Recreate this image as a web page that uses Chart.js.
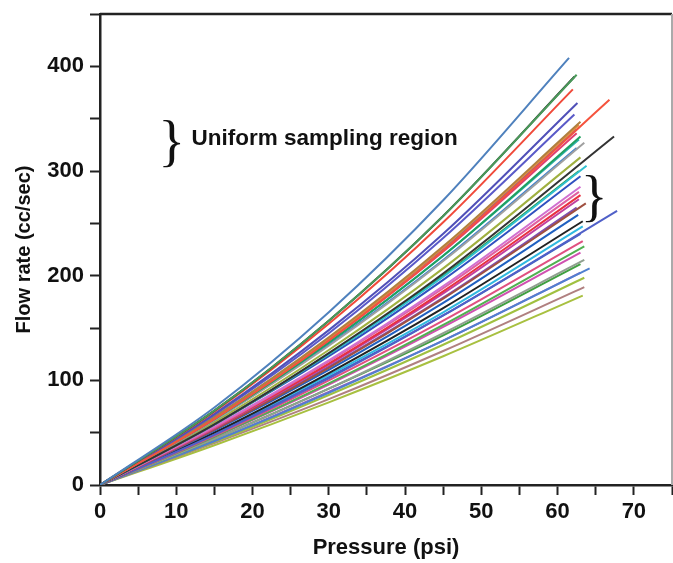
<!DOCTYPE html>
<html>
<head>
<meta charset="utf-8">
<script src="https://cdn.jsdelivr.net/npm/chart.js@4.4.0/dist/chart.umd.min.js"></script>
<style>
  html, body { margin: 0; padding: 0; background: #fff; }
</style>
</head>
<body>
<canvas id="flowChart" width="673" height="563"></canvas>
<script>
// pressure (psi) where each curve was read, last point of each curve is at endPressure
const pressureSteps = [0, 15, 30, 45];
const endPressure = [
  61.5, 62.5, 62.2, 62.0, 66.8, 62.6, 62.2, 63.0, 62.8, 62.5,
  62.5, 63.0, 67.4, 62.8, 63.5, 62.5, 63.0, 63.8, 62.8, 63.0,
  63.0, 62.8, 63.0, 62.8, 63.7, 62.5, 67.8, 62.7, 63.3, 63.3,
  63.0, 63.3, 63.5, 63.0, 63.5, 63.0, 64.2, 63.0, 63.5, 63.5, 63.3
];
// flow rate (cc/sec) at pressureSteps, then at endPressure
const flowRates = [
  [0, 74, 165, 272, 408], [0, 71, 157, 257, 392], [0, 71, 157, 257, 390],
  [0, 70, 154, 251, 378], [0, 63, 138, 224, 368], [0, 68, 148, 240, 365],
  [0, 67, 145, 236, 354], [0, 65, 141, 228, 347], [0, 65, 140, 227, 344],
  [0, 64, 140, 226, 340], [0, 64, 138, 223, 336], [0, 63, 136, 219, 333],
  [0, 58, 126, 202, 333], [0, 63, 136, 219, 330], [0, 62, 133, 214, 327],
  [0, 62, 134, 215, 322], [0, 60, 129, 207, 313], [0, 58, 125, 199, 305],
  [0, 58, 125, 200, 300], [0, 58, 123, 196, 295], [0, 56, 119, 190, 285],
  [0, 55, 118, 188, 280], [0, 55, 116, 185, 277], [0, 54, 115, 183, 273],
  [0, 53, 112, 178, 269], [0, 53, 113, 179, 265], [0, 48, 102, 162, 262],
  [0, 52, 110, 174, 258], [0, 50, 107, 169, 252], [0, 50, 105, 165, 247],
  [0, 49, 103, 162, 240], [0, 47, 100, 157, 233], [0, 46, 97, 153, 228],
  [0, 46, 96, 151, 222], [0, 44, 92, 145, 215], [0, 44, 92, 143, 211],
  [0, 42, 88, 138, 207], [0, 42, 89, 138, 203], [0, 41, 86, 134, 198],
  [0, 40, 82, 128, 189], [0, 38, 79, 123, 181]
];
const lineColors = [
  '#4f81bd', '#4a9a5a', '#222222', '#f04a3a', '#f5533d', '#5050b8',
  '#5a5ac8', '#b08040', '#e8903a', '#6060c0', '#e04070', '#20a060',
  '#333333', '#30b0b0', '#a0a0a0', '#4080d0', '#a0b040', '#30c0d0',
  '#2a9a4a', '#3050c0', '#d070d0', '#e060a0', '#e83040', '#c040a0',
  '#a05040', '#8050b0', '#5060c8', '#2060c0', '#222222', '#30b8e0',
  '#4060c0', '#e05080', '#50b050', '#d050b0', '#90a090', '#40a040',
  '#5080d0', '#9060c0', '#a0c040', '#b08080', '#a8c040'
];

const datasets = flowRates.map((vals, i) => ({
  data: vals.map((v, j) => ({ x: j < pressureSteps.length ? pressureSteps[j] : endPressure[i], y: v })),
  borderColor: lineColors[i],
  borderWidth: 2,
  pointRadius: 0,
  fill: false,
  cubicInterpolationMode: 'monotone'
}));

const frameAndNotes = {
  id: 'frameAndNotes',
  afterDraw(chart) {
    const { ctx, chartArea: a, scales } = chart;
    ctx.save();
    ctx.strokeStyle = '#222';
    ctx.lineWidth = 2.5;
    ctx.beginPath();
    ctx.moveTo(a.left, a.top);
    ctx.lineTo(a.right, a.top);
    ctx.stroke();
    ctx.strokeStyle = '#aaa';
    ctx.lineWidth = 2;
    ctx.beginPath();
    ctx.moveTo(a.right, a.top);
    ctx.lineTo(a.right, a.bottom);
    ctx.stroke();

    // braces and label
    ctx.fillStyle = '#111';
    ctx.textAlign = 'center';
    ctx.textBaseline = 'middle';
    ctx.font = '56px "Liberation Serif"';
    ctx.fillText('}', scales.x.getPixelForValue(9.4), scales.y.getPixelForValue(325));
    ctx.fillText('}', scales.x.getPixelForValue(64.8), scales.y.getPixelForValue(272));
    ctx.textAlign = 'left';
    ctx.font = 'bold 22.5px "Liberation Sans"';
    ctx.fillText('Uniform sampling region', scales.x.getPixelForValue(12.0), scales.y.getPixelForValue(331));
    ctx.restore();
  }
};

const tickFont = { family: 'Liberation Sans', size: 22, weight: 'bold' };

new Chart(document.getElementById('flowChart'), {
  type: 'line',
  data: { datasets: datasets },
  options: {
    responsive: false,
    animation: false,
    layout: { padding: { top: 14, right: 1, left: 0, bottom: 0 } },
    plugins: { legend: { display: false }, tooltip: { enabled: false } },
    scales: {
      x: {
        type: 'linear',
        min: 0,
        max: 75,
        ticks: {
          stepSize: 5,
          autoSkip: false,
          maxRotation: 0,
          padding: 4,
          color: '#111',
          font: tickFont,
          callback: v => (v % 10 === 0 ? v : '')
        },
        grid: { drawOnChartArea: false, tickLength: 10, tickWidth: 2, tickColor: '#222' },
        border: { color: '#222', width: 2.5 },
        title: {
          display: true,
          text: 'Pressure (psi)',
          color: '#111',
          font: { family: 'Liberation Sans', size: 22, weight: 'bold' },
          padding: { top: 0, bottom: 2 }
        },
        afterFit(scale) {
          scale.height = 78;
          scale.paddingLeft = 0;
          scale.paddingRight = 0;
        }
      },
      y: {
        min: 0,
        max: 450,
        ticks: {
          stepSize: 50,
          autoSkip: false,
          padding: 6,
          color: '#111',
          font: tickFont,
          callback: v => (v % 100 === 0 ? v : '')
        },
        grid: { drawOnChartArea: false, tickLength: 10, tickWidth: 2, tickColor: '#222' },
        border: { color: '#222', width: 2.5 },
        title: {
          display: true,
          text: 'Flow rate (cc/sec)',
          color: '#111',
          font: { family: 'Liberation Sans', size: 20, weight: 'bold' },
          padding: { top: 12, bottom: 0 }
        },
        afterFit(scale) {
          scale.width = 100;
          scale.paddingTop = 0;
          scale.paddingBottom = 0;
        }
      }
    }
  },
  plugins: [frameAndNotes]
});
</script>
</body>
</html>
